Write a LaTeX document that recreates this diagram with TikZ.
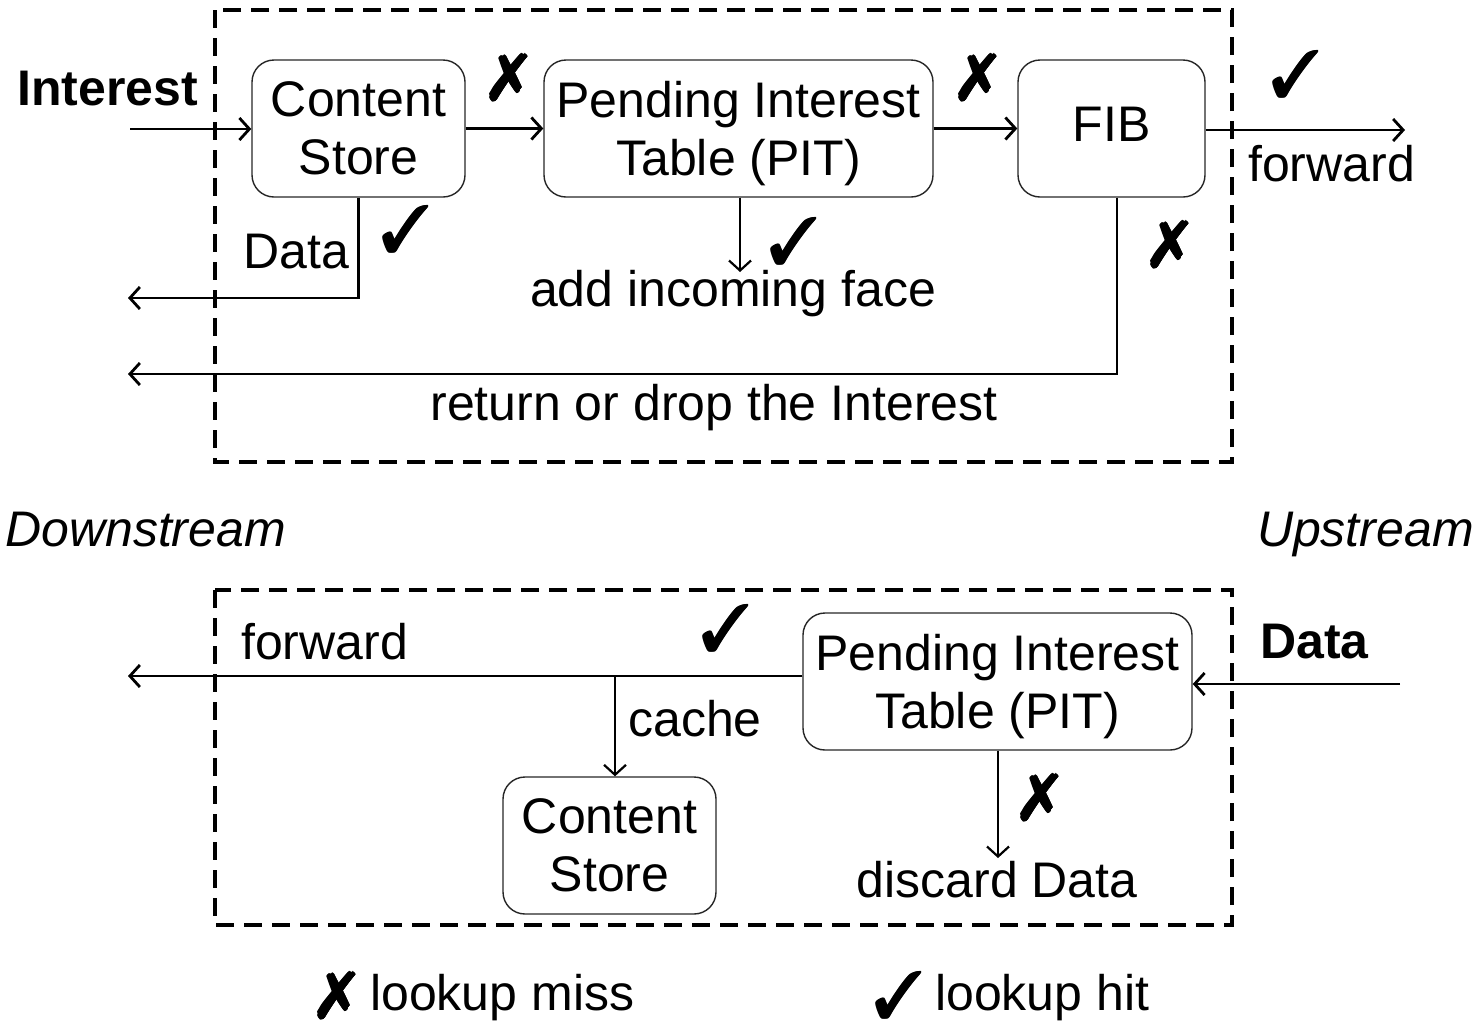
\documentclass[tikz,border=0pt]{standalone}
\usepackage{fontspec}
\setmainfont{Liberation Sans}
\usepackage{pifont}
\usetikzlibrary{arrows.meta}
\newcommand\diagfont{\fontsize{50}{58}\selectfont}
\newcommand\hmfont{\fontsize{64}{64}\selectfont}
\newcommand\heavymark[1]{%
  \makebox[0pt][l]{\hspace{2pt}#1}%
  \makebox[0pt][l]{\hspace{1pt}\raisebox{1pt}{#1}}%
  \makebox[0pt][l]{\hspace{1pt}\raisebox{-1pt}{#1}}%
  \makebox[0pt][l]{\hspace{1.4pt}\raisebox{0.7pt}{#1}}%
  \makebox[0pt][l]{\hspace{0.6pt}\raisebox{-0.7pt}{#1}}%
  #1\hspace{1pt}}
\newcommand\hit{\heavymark{\ding{51}}}
\newcommand\miss{\heavymark{\ding{55}}}
\begin{document}
\begin{tikzpicture}[x=1pt,y=-1pt,
  conn/.style={line width=2.8pt, draw=black},
  arr/.style={conn, -{Straight Barb[length=10pt,width=22pt]}},
  blk/.style={draw=black!85, line width=1.4pt, rounded corners=22pt, align=center,
    text depth=0pt, inner sep=0pt, font=\diagfont, minimum height=137pt},
  lbl/.style={inner sep=0pt, font=\diagfont},
  hm/.style={inner sep=0pt, font=\hmfont},
  frame/.style={draw, line width=3.5pt, dash pattern=on 18pt off 10pt}]
\useasboundingbox (0,0) rectangle (1482,1021);
% frames
\draw[frame] (215,10) rectangle (1232,462);
\draw[frame] (215,590) rectangle (1232,925);
% blocks
\node[blk, minimum width=213pt] (cs) at (358.5,128.5) {Content\\Store};
\node[blk, minimum width=389pt] (pit) at (738.5,128.5) {Pending Interest\\Table (PIT)};
\node[blk, minimum width=187pt, text depth=8pt] (fib) at (1111.5,128.5) {FIB};
\node[blk, minimum width=389pt] (pit2) at (997.5,681.5) {Pending Interest\\Table (PIT)};
\node[blk, minimum width=213pt] (cs2) at (609.5,845.5) {Content\\Store};
% labels
\node[lbl, font=\diagfont\bfseries, anchor=base west] (interest) at (17,105) {Interest};
\node[lbl, anchor=base west] (fwd1) at (1248,181) {forward};
\node[lbl, anchor=base west] (data1) at (243,268) {Data};
\node[lbl, anchor=base] (addif) at (733,306) {add incoming face};
\node[lbl, anchor=base] (retdrop) at (714,420) {return or drop the Interest};
\node[lbl, font=\diagfont\itshape, anchor=base west] (down) at (5,546) {Downstream};
\node[lbl, font=\diagfont\itshape, anchor=base east] (up) at (1474,546) {Upstream};
\node[lbl, anchor=base west] (fwd2) at (241,659) {forward};
\node[lbl, font=\diagfont\bfseries, anchor=base west] (data2) at (1260,658) {Data};
\node[lbl, anchor=base west] (cache) at (628,736) {cache};
\node[lbl, anchor=base] (discard) at (997,897) {discard Data};
\node[lbl, anchor=base west] (lmiss) at (370,1010) {lookup miss};
\node[lbl, anchor=base west] (lhit) at (935,1010) {lookup hit};
% hit / miss marks
\node[hm] (m1) at (508,78) {\miss};
\node[hm] (m2) at (977,78) {\miss};
\node[hm] (h1) at (1295,74) {\hit};
\node[hm] (h2) at (405,229) {\hit};
\node[hm] (h3) at (793,241) {\hit};
\node[hm] (m3) at (1169,245) {\miss};
\node[hm] (h4) at (725,628) {\hit};
\node[hm] (m4) at (1039,798) {\miss};
\node[hm] (m5) at (336,996) {\miss};
\node[hm] (h5) at (898,995) {\hit};
% free ends
\coordinate (inL) at (130,129);
\coordinate (outR) at (1405,130);
\coordinate (dataL) at (128,298);
\coordinate (retL) at (128,374);
\coordinate (addT) at (740,272);
\coordinate (dataR) at (1400,684);
\coordinate (fwdL) at (128,676);
\coordinate (cacheT) at (615,676);
\coordinate (discT) at (998,858);
% connectors
\draw[arr] (inL) -- (cs.west |- inL);
\draw[arr] (cs.east) -- (pit.west);
\draw[arr] (pit.east) -- (fib.west);
\draw[arr] (fib.east |- outR) -- (outR);
\draw[arr] (cs.south) |- (dataL);
\draw[arr, line width=2.2pt] (pit.south -| addT) -- (addT);
\draw[arr] ([xshift=5.5pt]fib.south) |- (retL);
\draw[arr] (dataR) -- (pit2.east |- dataR);
\draw[arr] (pit2.west |- fwdL) -- (fwdL);
\draw[arr, line width=2.2pt] (cacheT) -- (cacheT |- cs2.north);
\draw[arr, line width=2.2pt] (pit2.south -| discT) -- (discT);
\end{tikzpicture}
\end{document}
